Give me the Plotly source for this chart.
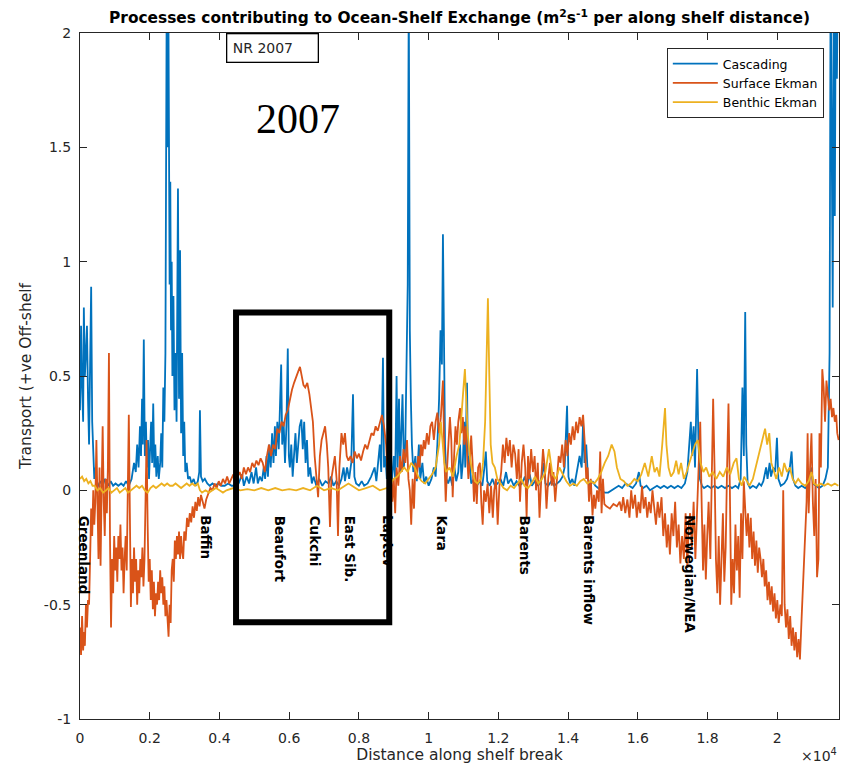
import plotly.graph_objects as go

# ---------------- data (distance along shelf break, transport) ----------------
cascading = [
(0,0.35),(30,0.72),(60,0.45),(90,0.3),(110,0.8),(140,0.5),(170,0.6),(200,0.72),(230,0.4),(260,0.2),
(290,0.55),(320,0.89),(350,0.3),(380,0.12),(410,0.05),(440,0.1),(470,0.03),(520,0.02),(580,0.04),(650,0.02),
(720,0.05),(800,0.02),(880,0.04),(950,0.02),(1020,0.03),(1100,0.02),(1180,0.03),(1250,0.02),(1320,0.04),(1400,0.02),
(1480,0.05),(1550,0.12),(1600,0.08),(1640,0.2),(1680,0.1),(1720,0.28),(1750,0.15),(1780,0.4),(1800,0.2),(1830,0.66),
(1860,0.15),(1890,0.3),(1920,0.1),(1950,0.22),(1980,0.05),(2010,0.18),(2040,0.3),(2070,0.12),(2100,0.38),(2130,0.1),
(2160,0.2),(2190,0.06),(2230,0.15),(2260,0.05),(2300,0.12),(2330,0.25),(2360,0.1),(2390,0.45),(2420,0.3),(2450,0.6),
(2470,1.1),(2490,2.3),(2510,1.5),(2530,2.3),(2550,1.62),(2570,0.9),(2590,1.35),(2610,0.7),(2630,1.0),(2650,0.5),
(2680,0.85),(2710,0.35),(2740,0.6),(2770,0.3),(2810,1.32),(2840,0.4),(2870,1.05),(2900,0.25),(2930,0.6),(2960,0.15),
(2990,0.3),(3020,0.08),(3060,0.12),(3100,0.05),(3150,0.06),(3200,0.03),(3260,0.05),(3320,0.02),(3380,0.04),(3420,0.08),
(3440,0.35),(3470,0.06),(3520,0.04),(3580,0.05),(3650,0.03),(3720,0.02),(3800,0.03),(3880,0.02),(3960,0.03),(4050,0.02),
(4150,0.02),(4250,0.03),(4350,0.02),(4450,0.02),(4550,0.03),(4650,0.07),(4700,0.02),(4780,0.06),(4850,0.03),(4920,0.08),
(4980,0.03),(5050,0.1),(5100,0.03),(5160,0.06),(5220,0.04),(5270,0.1),(5310,0.05),(5350,0.15),(5390,0.06),(5430,0.2),
(5470,0.1),(5510,0.25),(5550,0.12),(5590,0.28),(5620,0.15),(5660,0.3),(5700,0.18),(5740,0.35),(5770,0.55),(5800,0.2),
(5840,0.3),(5880,0.12),(5920,0.28),(5960,0.62),(5990,0.15),(6020,0.1),(6060,0.2),(6100,0.06),(6140,0.15),(6180,0.25),
(6220,0.12),(6260,0.22),(6300,0.28),(6350,0.31),(6390,0.18),(6430,0.3),(6470,0.12),(6510,0.22),(6550,0.06),(6600,0.1),
(6650,0.03),(6700,0.06),(6780,0.02),(6860,0.05),(6950,0.02),(7040,0.04),(7130,0.03),(7200,0.06),(7270,0.02),(7350,0.04),
(7430,0.02),(7500,0.05),(7560,0.1),(7600,0.04),(7660,0.1),(7720,0.05),(7780,0.12),(7830,0.42),(7870,0.06),(7920,0.03),
(8000,0.02),(8080,0.04),(8150,0.02),(8250,0.03),(8350,0.06),(8450,0.1),(8500,0.04),(8550,0.12),(8600,0.2),(8640,0.08),
(8690,0.58),(8720,0.1),(8760,0.15),(8800,0.05),(8850,0.08),(8900,0.02),(8950,0.05),(9000,0.15),(9040,0.05),(9080,0.5),
(9110,0.1),(9150,0.4),(9180,0.08),(9250,0.42),(9290,0.1),(9330,0.2),(9370,0.55),(9400,0.9),(9430,2.2),(9460,0.7),
(9490,0.4),(9520,0.2),(9560,0.08),(9620,0.15),(9660,0.04),(9720,0.2),(9760,0.05),(9820,0.12),(9870,0.03),(9930,0.06),
(10000,0.02),(10080,0.05),(10150,0.1),(10200,0.06),(10250,0.2),(10300,0.4),(10340,0.7),(10380,0.55),(10410,1.12),(10440,0.6),
(10470,0.2),(10510,0.05),(10560,0.03),(10620,0.06),(10680,0.02),(10740,0.1),(10790,0.04),(10850,0.08),(10900,0.2),(10940,0.05),
(10980,0.12),(11020,0.3),(11050,0.1),(11100,0.47),(11130,0.1),(11170,0.15),(11220,0.03),(11300,0.05),(11380,0.02),(11460,0.04),
(11540,0.02),(11600,0.1),(11640,0.17),(11680,0.04),(11750,0.02),(11830,0.05),(11900,0.02),(11980,0.03),(12060,0.05),(12140,0.02),
(12220,0.08),(12280,0.03),(12360,0.05),(12440,0.02),(12520,0.04),(12600,0.02),(12680,0.03),(12760,0.06),(12820,0.02),(12900,0.07),
(12960,0.02),(13050,0.04),(13140,0.02),(13230,0.05),(13300,0.12),(13350,0.03),(13430,0.02),(13520,0.04),(13600,0.02),(13680,0.03),
(13760,0.04),(13840,0.06),(13900,0.1),(13970,0.37),(14010,0.06),(14060,0.03),(14120,0.05),(14180,0.02),(14250,0.08),(14330,0.15),
(14390,0.1),(14430,0.3),(14470,0.12),(14520,0.2),(14570,0.05),(14630,0.02),(14700,0.04),(14780,0.02),(14860,0.01),(14950,0.0),
(15050,-0.01),(15150,-0.01),(15250,0.0),(15350,0.01),(15450,0.02),(15550,0.01),(15650,0.03),(15750,0.02),(15850,0.01),(15950,0.03),
(16030,0.08),(16080,0.02),(16150,0.01),(16250,0.02),(16350,0.0),(16450,0.01),(16550,0.02),(16650,0.01),(16750,0.02),(16850,0.01),
(16950,0.02),(17050,0.01),(17150,0.02),(17250,0.01),(17350,0.03),(17420,0.08),(17470,0.2),(17520,0.3),(17560,0.15),(17600,0.28),
(17640,0.1),(17700,0.53),(17740,0.2),(17780,0.05),(17840,0.02),(17900,0.01),(18000,0.02),(18100,0.01),(18200,0.02),(18300,0.01),
(18400,0.02),(18500,0.01),(18600,0.02),(18700,0.01),(18800,0.02),(18880,0.01),(18950,0.05),(19000,0.45),(19040,0.15),(19080,0.78),
(19110,0.2),(19150,0.03),(19220,0.01),(19300,0.02),(19400,0.01),(19480,0.03),(19540,0.02),(19600,0.04),(19680,0.1),(19720,0.05),
(19780,0.12),(19820,0.06),(19880,0.1),(19940,0.08),(19990,0.23),(20030,0.05),(20100,0.02),(20200,0.03),(20280,0.05),(20360,0.1),
(20410,0.17),(20450,0.05),(20520,0.02),(20600,0.01),(20700,0.02),(20800,0.01),(20900,0.03),(20980,0.1),(21020,0.03),(21100,0.02),
(21200,0.01),(21300,0.02),(21380,0.05),(21450,0.1),(21500,0.6),(21530,2.3),(21560,1.5),(21590,0.8),(21620,2.3),(21650,1.2),
(21680,2.3),(21710,1.8),(21740,2.3),(21770,2.0),
]

surface_ekman = [
(0,-0.6),(30,-0.72),(60,-0.55),(90,-0.7),(115,-0.62),(140,-0.68),(170,-0.5),(200,-0.6),(230,-0.48),(260,-0.5),
(290,-0.3),(320,-0.08),(350,-0.2),(380,0.0),(410,-0.15),(440,-0.05),(470,0.22),(500,-0.1),(530,-0.3),(560,0.1),
(590,-0.33),(620,0.0),(650,0.28),(680,-0.05),(710,-0.2),(740,0.05),(770,-0.1),(800,0.1),(830,0.6),(860,-0.2),
(890,-0.6),(920,-0.3),(950,-0.45),(980,-0.2),(1010,-0.35),(1040,-0.25),(1070,-0.4),(1100,-0.2),(1130,-0.3),(1160,-0.15),
(1190,-0.35),(1220,-0.25),(1250,-0.45),(1280,-0.3),(1310,-0.2),(1340,-0.35),(1370,-0.05),(1400,0.33),(1430,-0.1),(1460,-0.51),
(1490,-0.3),(1520,-0.45),(1550,-0.25),(1580,-0.4),(1610,-0.3),(1640,-0.5),(1670,-0.35),(1700,-0.45),(1730,-0.3),(1760,-0.38),
(1790,-0.25),(1820,-0.42),(1850,-0.3),(1880,-0.1),(1910,0.22),(1940,-0.15),(1970,-0.4),(2000,-0.3),(2030,-0.48),(2060,-0.35),
(2090,-0.52),(2120,-0.4),(2150,-0.55),(2180,-0.45),(2210,-0.5),(2240,-0.4),(2270,-0.48),(2300,-0.35),(2330,-0.45),(2360,-0.38),
(2390,-0.5),(2420,-0.42),(2450,-0.55),(2480,-0.48),(2510,-0.6),(2540,-0.64),(2570,-0.5),(2600,-0.58),(2630,-0.35),(2660,-0.3),
(2690,-0.4),(2720,-0.22),(2750,-0.3),(2780,-0.2),(2810,-0.28),(2840,-0.18),(2870,-0.3),(2900,-0.2),(2930,-0.27),(2960,-0.3),
(2990,-0.18),(3030,-0.22),(3070,-0.12),(3110,-0.16),(3150,-0.1),(3190,-0.14),(3230,-0.07),(3270,-0.12),(3310,-0.05),(3350,-0.09),
(3390,-0.03),(3430,-0.07),(3470,-0.02),(3520,-0.05),(3570,-0.08),(3620,-0.04),(3680,-0.01),(3740,0.01),(3800,0.0),(3860,0.03),
(3920,0.01),(3980,0.04),(4040,0.02),(4100,0.05),(4160,0.03),(4220,0.06),(4280,0.03),(4340,0.05),(4400,0.07),(4460,0.04),
(4520,0.06),(4580,0.08),(4640,0.05),(4700,0.1),(4760,0.07),(4820,0.1),(4880,0.08),(4940,0.12),(5000,0.1),(5060,0.13),
(5120,0.11),(5180,0.14),(5240,0.12),(5300,0.08),(5360,0.15),(5420,0.2),(5480,0.15),(5540,0.2),(5600,0.18),(5660,0.27),
(5720,0.25),(5780,0.3),(5840,0.28),(5900,0.33),(5960,0.35),(6020,0.4),(6080,0.44),(6140,0.47),(6200,0.5),(6260,0.52),
(6310,0.54),(6360,0.5),(6410,0.46),(6460,0.45),(6520,0.47),(6580,0.42),(6630,0.35),(6680,0.3),(6730,0.15),(6780,0.05),
(6830,-0.03),(6880,0.15),(6930,0.22),(6980,0.25),(7030,0.28),(7080,0.2),(7120,0.1),(7170,-0.16),(7210,0.05),(7260,0.1),
(7310,0.15),(7360,0.05),(7400,-0.2),(7440,0.1),(7500,0.25),(7550,0.2),(7600,0.25),(7650,0.15),(7700,0.13),(7760,0.15),
(7820,0.12),(7880,0.17),(7940,0.14),(8000,0.16),(8060,0.13),(8120,0.17),(8180,0.2),(8240,0.18),(8300,0.22),(8360,0.25),
(8420,0.24),(8480,0.28),(8540,0.26),(8600,0.3),(8660,0.33),(8720,0.28),(8780,0.2),(8830,0.05),(8880,0.0),(8920,0.08),
(8960,-0.05),(9000,0.05),(9040,-0.1),(9080,0.1),(9130,0.02),(9180,0.15),(9230,0.08),(9280,0.18),(9330,0.12),(9380,0.22),
(9420,0.05),(9460,0.0),(9500,-0.15),(9540,0.05),(9580,-0.08),(9620,0.12),(9660,0.05),(9700,0.15),(9740,0.1),(9780,0.2),
(9820,0.15),(9860,0.22),(9900,0.18),(9950,0.25),(10000,0.2),(10050,0.28),(10100,0.3),(10150,0.22),(10200,0.3),(10250,0.34),
(10300,0.25),(10350,0.32),(10410,0.48),(10450,0.15),(10490,-0.05),(10530,0.1),(10570,0.25),(10610,0.32),(10650,0.22),(10690,-0.03),
(10730,0.15),(10770,0.28),(10810,0.2),(10850,0.3),(10900,0.36),(10940,0.25),(10980,0.32),(11020,0.2),(11060,0.28),(11100,0.15),
(11140,0.05),(11180,0.12),(11220,0.24),(11260,0.12),(11300,-0.05),(11340,0.08),(11380,-0.06),(11420,0.1),(11470,0.12),(11510,-0.05),
(11550,-0.15),(11590,0.0),(11640,-0.05),(11690,0.03),(11740,-0.1),(11790,0.02),(11840,-0.12),(11880,0.0),(11930,0.05),(11980,-0.15),
(12030,0.02),(12080,0.08),(12130,0.2),(12180,0.12),(12230,0.23),(12280,0.15),(12330,0.22),(12380,0.1),(12430,0.2),(12480,0.16),
(12530,0.05),(12580,0.18),(12620,-0.05),(12670,0.12),(12720,0.2),(12770,0.1),(12810,-0.12),(12850,0.15),(12890,0.05),(12940,0.18),
(12990,0.08),(13040,0.15),(13080,0.0),(13130,0.12),(13180,-0.12),(13230,0.05),(13280,0.18),(13330,0.1),(13380,-0.08),(13430,0.05),
(13480,0.12),(13530,0.02),(13580,0.08),(13630,-0.05),(13680,0.05),(13730,0.15),(13780,0.12),(13830,0.2),(13880,0.1),(13930,0.22),
(13980,0.15),(14030,0.25),(14080,0.2),(14130,0.28),(14180,0.22),(14230,0.3),(14280,0.25),(14330,0.32),(14380,0.28),(14430,0.33),
(14480,0.2),(14520,0.05),(14560,0.1),(14600,-0.05),(14650,0.05),(14700,-0.11),(14740,-0.02),(14780,-0.08),(14830,0.0),(14880,-0.05),
(14920,0.17),(14960,-0.1),(15000,0.05),(15040,-0.06),(15100,-0.07),(15200,-0.08),(15300,-0.06),(15400,-0.07),(15480,-0.05),(15530,-0.09),
(15580,-0.03),(15640,-0.1),(15700,-0.04),(15760,-0.12),(15810,0.0),(15860,-0.08),(15920,-0.02),(15970,-0.12),(16020,-0.05),(16070,-0.1),
(16120,0.02),(16170,-0.08),(16220,-0.03),(16270,-0.12),(16320,-0.05),(16370,-0.1),(16420,0.0),(16470,-0.08),(16520,-0.15),(16570,-0.05),
(16620,-0.12),(16680,-0.03),(16730,-0.2),(16780,-0.1),(16830,-0.25),(16870,-0.15),(16920,-0.28),(16970,-0.1),(17020,-0.2),(17070,-0.05),
(17120,-0.25),(17170,-0.15),(17220,-0.32),(17270,-0.2),(17320,-0.3),(17370,-0.1),(17420,-0.34),(17460,-0.15),(17500,-0.1),(17550,-0.25),
(17600,-0.05),(17650,-0.3),(17700,-0.1),(17750,0.1),(17790,0.3),(17830,-0.05),(17870,-0.35),(17910,-0.15),(17950,-0.39),(17990,-0.2),
(18030,-0.05),(18080,-0.3),(18120,0.05),(18160,0.4),(18200,0.1),(18240,-0.3),(18280,-0.45),(18320,-0.2),(18360,-0.5),(18400,-0.3),
(18440,-0.1),(18480,-0.4),(18520,-0.25),(18560,0.1),(18600,0.38),(18640,0.0),(18680,-0.5),(18720,-0.3),(18760,-0.45),(18800,-0.15),
(18840,-0.35),(18880,-0.2),(18920,-0.47),(18960,-0.1),(19000,-0.3),(19040,0.04),(19080,-0.08),(19120,-0.2),(19160,-0.1),(19200,-0.25),
(19240,-0.12),(19280,-0.3),(19320,-0.18),(19360,-0.33),(19400,-0.22),(19440,-0.36),(19480,-0.25),(19520,-0.3),(19560,-0.38),(19600,-0.3),
(19640,-0.42),(19680,-0.35),(19720,-0.48),(19760,-0.4),(19800,-0.5),(19840,-0.42),(19880,-0.53),(19920,-0.45),(19960,-0.56),(20000,-0.48),
(20040,-0.58),(20090,-0.5),(20130,-0.55),(20170,0.0),(20210,-0.5),(20250,-0.6),(20290,-0.52),(20330,-0.65),(20370,-0.55),(20410,-0.68),
(20450,-0.6),(20490,-0.7),(20530,-0.62),(20570,-0.73),(20610,-0.65),(20650,-0.74),(20700,-0.55),(20750,-0.35),(20800,-0.2),(20840,-0.05),
(20870,0.25),(20900,-0.1),(20940,0.1),(20980,0.25),(21020,-0.05),(21060,-0.2),(21100,0.05),(21140,-0.38),(21180,-0.3),(21210,0.25),
(21250,0.1),(21290,0.53),(21330,0.45),(21370,0.3),(21410,0.48),(21450,0.42),(21490,0.35),(21530,0.4),(21570,0.32),(21610,0.36),
(21650,0.3),(21690,0.33),(21720,0.25),(21760,0.22),
]

benthic_ekman = [
(0,0.05),(60,0.06),(120,0.04),(180,0.05),(240,0.03),(300,0.04),(360,0.02),(420,0.02),(500,0.0),(580,0.01),
(660,-0.01),(740,0.0),(820,0.01),(900,-0.01),(980,0.0),(1060,0.01),(1140,-0.01),(1220,0.0),(1300,0.01),(1380,-0.01),
(1460,0.0),(1540,0.01),(1620,0.02),(1700,0.01),(1780,0.02),(1860,0.0),(1940,-0.01),(2020,0.01),(2100,0.02),(2180,0.01),
(2260,0.02),(2340,0.03),(2420,0.02),(2500,0.03),(2580,0.02),(2660,0.02),(2740,0.03),(2820,0.02),(2900,0.01),(2980,0.02),
(3060,0.03),(3140,0.02),(3220,0.03),(3300,0.02),(3380,0.03),(3440,0.0),(3500,-0.01),(3600,0.0),(3700,-0.01),(3800,0.0),
(3900,0.01),(4000,0.0),(4100,-0.01),(4200,0.0),(4400,0.01),(4600,0.0),(4800,0.005),(5000,0.0),(5200,0.01),(5400,0.0),
(5600,0.01),(5800,0.0),(6000,0.005),(6200,0.0),(6400,0.01),(6600,0.0),(6800,0.02),(6900,0.01),(7000,0.0),(7200,0.01),
(7400,0.0),(7600,0.02),(7700,0.03),(7800,0.02),(7900,0.01),(8000,0.0),(8200,0.01),(8400,0.02),(8500,0.01),(8600,0.0),
(8800,0.01),(8900,0.03),(9000,0.05),(9100,0.06),(9200,0.08),(9300,0.1),(9400,0.08),(9500,0.12),(9600,0.1),(9700,0.06),
(9800,0.04),(9900,0.03),(10000,0.05),(10100,0.07),(10200,0.1),(10300,0.2),(10350,0.3),(10400,0.22),(10450,0.12),(10500,0.08),
(10600,0.1),(10700,0.06),(10800,0.15),(10880,0.2),(10940,0.35),(11000,0.45),(11040,0.53),(11080,0.4),(11120,0.25),(11180,0.15),
(11250,0.08),(11330,0.04),(11400,0.03),(11500,0.05),(11560,0.12),(11620,0.3),(11660,0.6),(11700,0.84),(11740,0.5),(11780,0.2),
(11830,0.12),(11900,0.1),(11970,0.05),(12050,0.03),(12150,0.01),(12250,0.0),(12350,0.02),(12450,0.01),(12550,0.03),(12650,0.05),
(12750,0.02),(12850,0.01),(12950,0.03),(13050,0.06),(13150,0.03),(13250,0.05),(13350,0.08),(13450,0.18),(13550,0.07),(13650,0.05),
(13750,0.1),(13850,0.07),(13950,0.04),(14050,0.02),(14150,0.03),(14250,0.02),(14350,0.04),(14450,0.05),(14550,0.03),(14650,0.04),
(14750,0.03),(14850,0.05),(14950,0.08),(15050,0.12),(15150,0.15),(15250,0.2),(15330,0.17),(15400,0.1),(15500,0.05),(15600,0.04),
(15700,0.02),(15800,0.03),(15900,0.05),(16000,0.04),(16100,0.07),(16200,0.12),(16300,0.06),(16400,0.15),(16480,0.08),(16550,0.1),
(16620,0.06),(16700,0.2),(16780,0.36),(16820,0.2),(16880,0.1),(16950,0.06),(17030,0.08),(17100,0.13),(17170,0.07),(17240,0.12),
(17320,0.05),(17400,0.08),(17480,0.12),(17560,0.15),(17640,0.2),(17720,0.22),(17800,0.12),(17880,0.08),(17960,0.1),(18050,0.06),
(18150,0.08),(18250,0.05),(18350,0.08),(18450,0.06),(18550,0.1),(18650,0.07),(18750,0.12),(18830,0.14),(18900,0.05),(18980,0.02),
(19050,0.06),(19130,0.04),(19200,0.02),(19300,0.05),(19380,0.1),(19460,0.15),(19540,0.2),(19600,0.24),(19650,0.27),(19710,0.2),
(19770,0.25),(19830,0.12),(19900,0.08),(19970,0.05),(20050,0.1),(20130,0.06),(20200,0.12),(20280,0.08),(20360,0.1),(20440,0.05),
(20520,0.03),(20600,0.05),(20700,0.03),(20800,0.02),(20900,0.04),(20980,0.08),(21050,0.03),(21150,0.02),(21250,0.03),(21350,0.02),
(21450,0.03),(21550,0.02),(21650,0.03),(21750,0.02),
]

series_names = ["Cascading", "Surface Ekman", "Benthic Ekman"]
series_colors = ["#0072BD", "#D95319", "#EDB120"]

x_tick_vals = [0, 2000, 4000, 6000, 8000, 10000, 12000, 14000, 16000, 18000, 20000]
x_tick_text = ["0", "0.2", "0.4", "0.6", "0.8", "1", "1.2", "1.4", "1.6", "1.8", "2"]
y_tick_vals = [-1, -0.5, 0, 0.5, 1, 1.5, 2]
y_tick_text = ["-1", "-0.5", "0", "0.5", "1", "1.5", "2"]

region_names = ["Greenland", "Baffin", "Beaufort", "Cukchi", "East Sib.", "Laptev",
                "Kara", "Barents", "Barents inflow", "Norwegian/NEA"]
region_dist = [115, 3615, 5738, 6742, 7746, 8837, 10386, 12767, 14603, 17501]

highlight_box = dict(x0=4476, x1=8870, y0=-0.577, y1=0.778)

# ---------------- figure ----------------
fig = go.Figure()
for pts, name, col in zip([cascading, surface_ekman, benthic_ekman], series_names, series_colors):
    fig.add_trace(go.Scatter(
        x=[p[0] for p in pts], y=[p[1] for p in pts], mode="lines", name=name,
        line=dict(color=col, width=1.8), hoverinfo="skip"))

axis_col = "#262626"
common_axis = dict(showline=True, linecolor=axis_col, linewidth=1, mirror="ticks",
                   ticks="inside", ticklen=7, tickcolor=axis_col, tickwidth=1,
                   showgrid=False, zeroline=False, automargin=False,
                   tickfont=dict(family="DejaVu Sans", size=14, color=axis_col))

fig.update_xaxes(range=[0, 21770], tickvals=x_tick_vals, ticktext=x_tick_text,
                 ticklabelstandoff=6,
                 title=dict(text="Distance along shelf break", standoff=4,
                            font=dict(family="DejaVu Sans", size=15.5, color=axis_col)),
                 **common_axis)
fig.update_yaxes(range=[-1, 2], tickvals=y_tick_vals, ticktext=y_tick_text,
                 ticklabelstandoff=5,
                 title=dict(text="Transport (+ve Off-shelf", standoff=8,
                            font=dict(family="DejaVu Sans", size=15.5, color=axis_col)),
                 **common_axis)

annotations = []
for name, d in zip(region_names, region_dist):
    annotations.append(dict(x=d, y=-0.1, xref="x", yref="y", text=name, textangle=90,
                            xanchor="center", yanchor="top", showarrow=False,
                            font=dict(family="DejaVu Sans", size=13.5, color="black", weight="bold")))
annotations.append(dict(x=0.2866, y=0.8746, xref="paper", yref="paper", text="2007",
                        showarrow=False, xanchor="center", yanchor="middle",
                        font=dict(family="Liberation Serif", size=42, color="black")))
annotations.append(dict(x=0.1924, y=1.0, xref="paper", yref="paper", text="&nbsp;NR 2007",
                        showarrow=False, xanchor="left", yanchor="top", align="left",
                        width=88, height=25, borderpad=1, borderwidth=1.3,
                        bordercolor="black", bgcolor="white",
                        font=dict(family="DejaVu Sans", size=14, color=axis_col)))
annotations.append(dict(x=1.0, y=-0.052, xref="paper", yref="paper", text="×10<sup>4</sup>",
                        showarrow=False, xanchor="right", yanchor="middle",
                        font=dict(family="DejaVu Sans", size=14, color=axis_col)))

# the page body adds an 8 px offset, so the figure is 8 px smaller and margins shifted
fig.update_layout(
    width=845, height=756,
    margin=dict(l=72, r=14, t=25, b=45, autoexpand=False),
    plot_bgcolor="white", paper_bgcolor="white",
    title=dict(text="<b>Processes contributing to Ocean-Shelf Exchange (m<sup>2</sup>s<sup>-1</sup> per along shelf distance)</b>",
               x=0.5, xref="paper", xanchor="center", y=1 - 10 / 756, yref="container", yanchor="middle",
               font=dict(family="DejaVu Sans", size=15.4, color="black")),
    legend=dict(x=0.98, y=0.978, xanchor="right", yanchor="top", bgcolor="white",
                bordercolor=axis_col, borderwidth=1, itemwidth=45,
                font=dict(family="DejaVu Sans", size=12.5, color="black")),
    annotations=annotations,
    shapes=[dict(type="rect", xref="x", yref="y", layer="above",
                 line=dict(color="black", width=6), **highlight_box)],
)

fig.write_html("out.html")
